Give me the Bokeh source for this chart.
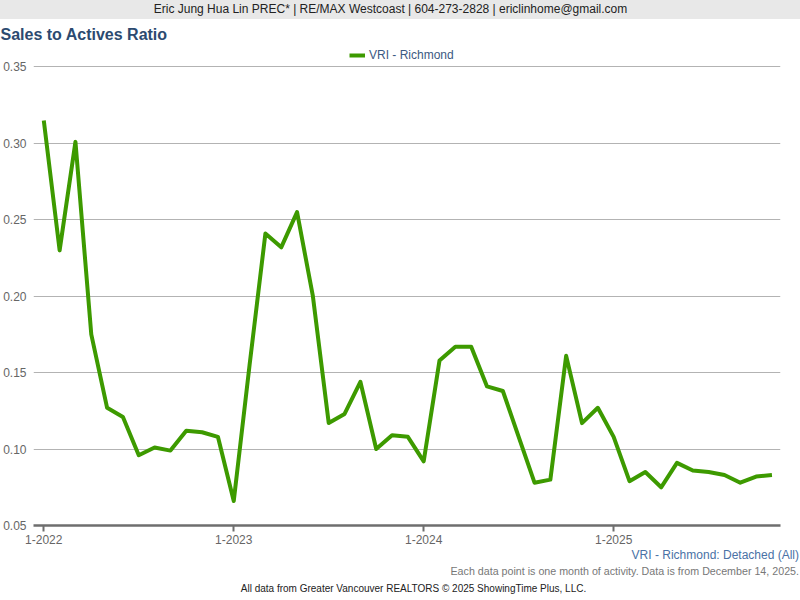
from bokeh.plotting import figure
from bokeh.models import (Range1d, FixedTicker, Legend, LegendItem,
                          NumeralTickFormatter, Div)
from bokeh.layouts import column
from bokeh.embed import file_html
from bokeh.resources import INLINE

# ---- data ----
years = [2022, 2023, 2024, 2025]
months = [f"{m}-{y}" for y in years for m in range(1, 13)][:47]
ratio = [0.315, 0.230, 0.301, 0.175, 0.127, 0.121, 0.096, 0.101, 0.099, 0.112, 0.111, 0.108,
         0.066, 0.155, 0.241, 0.232, 0.255, 0.200, 0.117, 0.123, 0.144, 0.100, 0.109, 0.108,
         0.092, 0.158, 0.167, 0.167, 0.141, 0.138, 0.108, 0.078, 0.080, 0.161, 0.117, 0.127,
         0.108, 0.079, 0.085, 0.075, 0.091, 0.086, 0.085, 0.083, 0.078, 0.082, 0.083]
y_ticks = [0.05, 0.10, 0.15, 0.20, 0.25, 0.30, 0.35]
series_name = "VRI - Richmond"
banner = "Eric Jung Hua Lin PREC* | RE/MAX Westcoast | 604-273-2828 | ericlinhome@gmail.com"
chart_title = "Sales to Actives Ratio"
subtitle = "VRI - Richmond: Detached (All)"
note = "Each data point is one month of activity. Data is from December 14, 2025."
source = "All data from Greater Vancouver REALTORS \u00a9 2025 ShowingTime Plus, LLC."

x = list(range(len(ratio)))
x_tick_pos = [i for i, m in enumerate(months) if m.startswith("1-")]

FONT = "Liberation Sans"
W = 800
BANNER_H = 19
FIG_H = 530
FOOT_H = 600 - BANNER_H - FIG_H

BL, BR, BT, BB = 33, 20, 25, 24

banner_div = Div(text=(f'<div style="padding-right:19px;text-align:center;'
                       f'white-space:nowrap;">{banner}</div>'),
                 width=W, height=BANNER_H, margin=0,
                 styles={"background-color": "#e8e8e8", "font-family": FONT,
                         "font-size": "12px", "color": "#222222",
                         "text-align": "center", "line-height": "19px",
                         "overflow": "hidden"})

p = figure(width=W, height=FIG_H, output_backend="svg", toolbar_location=None,
           x_range=Range1d(-0.65, 46.54), y_range=Range1d(0.05, 0.3647),
           min_border_left=BL, min_border_right=BR, min_border_top=BT,
           min_border_bottom=BB, margin=0)
p.outline_line_color = None
p.background_fill_color = "white"
p.border_fill_color = "white"

p.title.text = chart_title
p.title.align = "left"
p.title.offset = -33
p.title.standoff = 3
p.title.text_font = FONT
p.title.text_font_size = "16px"
p.title.text_font_style = "bold"
p.title.text_color = "#2c4a70"

r = p.line(x, ratio, line_color="#3d9a00", line_width=4, line_join="round")

# axes
p.xaxis.ticker = FixedTicker(ticks=x_tick_pos)
p.xaxis.major_label_overrides = {i: months[i] for i in x_tick_pos}
p.xaxis.axis_line_color = "#6e6e6e"
p.xaxis.axis_line_width = 2.5
p.xaxis.major_tick_line_color = "#6e6e6e"
p.xaxis.major_tick_line_width = 2
p.xaxis.major_tick_out = 6
p.xaxis.major_tick_in = 0
p.xaxis.minor_tick_line_color = None
p.xaxis.major_label_text_font = FONT
p.xaxis.major_label_text_font_size = "12px"
p.xaxis.major_label_text_color = "#666666"
p.xaxis.major_label_standoff = 3

p.yaxis.ticker = FixedTicker(ticks=y_ticks)
p.yaxis.formatter = NumeralTickFormatter(format="0.00")
p.yaxis.axis_line_color = None
p.yaxis.major_tick_line_color = None
p.yaxis.minor_tick_line_color = None
p.yaxis.major_tick_out = 0
p.yaxis.major_tick_in = 0
p.yaxis.major_label_text_font = FONT
p.yaxis.major_label_text_font_size = "12px"
p.yaxis.major_label_text_color = "#666666"
p.yaxis.major_label_standoff = 7

p.xgrid.grid_line_color = None
p.ygrid.grid_line_color = "#b3b3b3"
p.ygrid.grid_line_width = 1

# legend (inside the frame, above the top grid line)
legend = Legend(items=[LegendItem(label=series_name, renderers=[r])],
                location=(316, 463), orientation="horizontal",
                padding=0, margin=0, glyph_width=16, glyph_height=12,
                label_height=12, label_standoff=4,
                label_text_font=FONT, label_text_font_size="12px",
                label_text_color="#3c5a82",
                background_fill_alpha=0, border_line_color=None)
p.add_layout(legend, "center")

foot_html = (
    f'<div style="font-family:{FONT};width:{W}px;">'
    f'<div style="text-align:right;font-size:12px;line-height:13px;color:#4a72a6;'
    f'padding-right:1px;white-space:nowrap;">{subtitle}</div>'
    f'<div style="text-align:right;font-size:10.7px;line-height:18px;color:#777777;'
    f'padding-right:1px;white-space:nowrap;">{note}</div>'
    f'<div style="text-align:center;font-size:10px;line-height:18px;color:#222222;'
    f'padding-left:27px;white-space:nowrap;">{source}</div>'
    f'</div>'
)
foot_div = Div(text=foot_html, width=W, height=FOOT_H, margin=0,
               styles={"font-family": FONT, "overflow": "hidden"})

layout = column(banner_div, p, foot_div, spacing=0, margin=0)
open("out.html", "w").write(file_html(layout, INLINE))
